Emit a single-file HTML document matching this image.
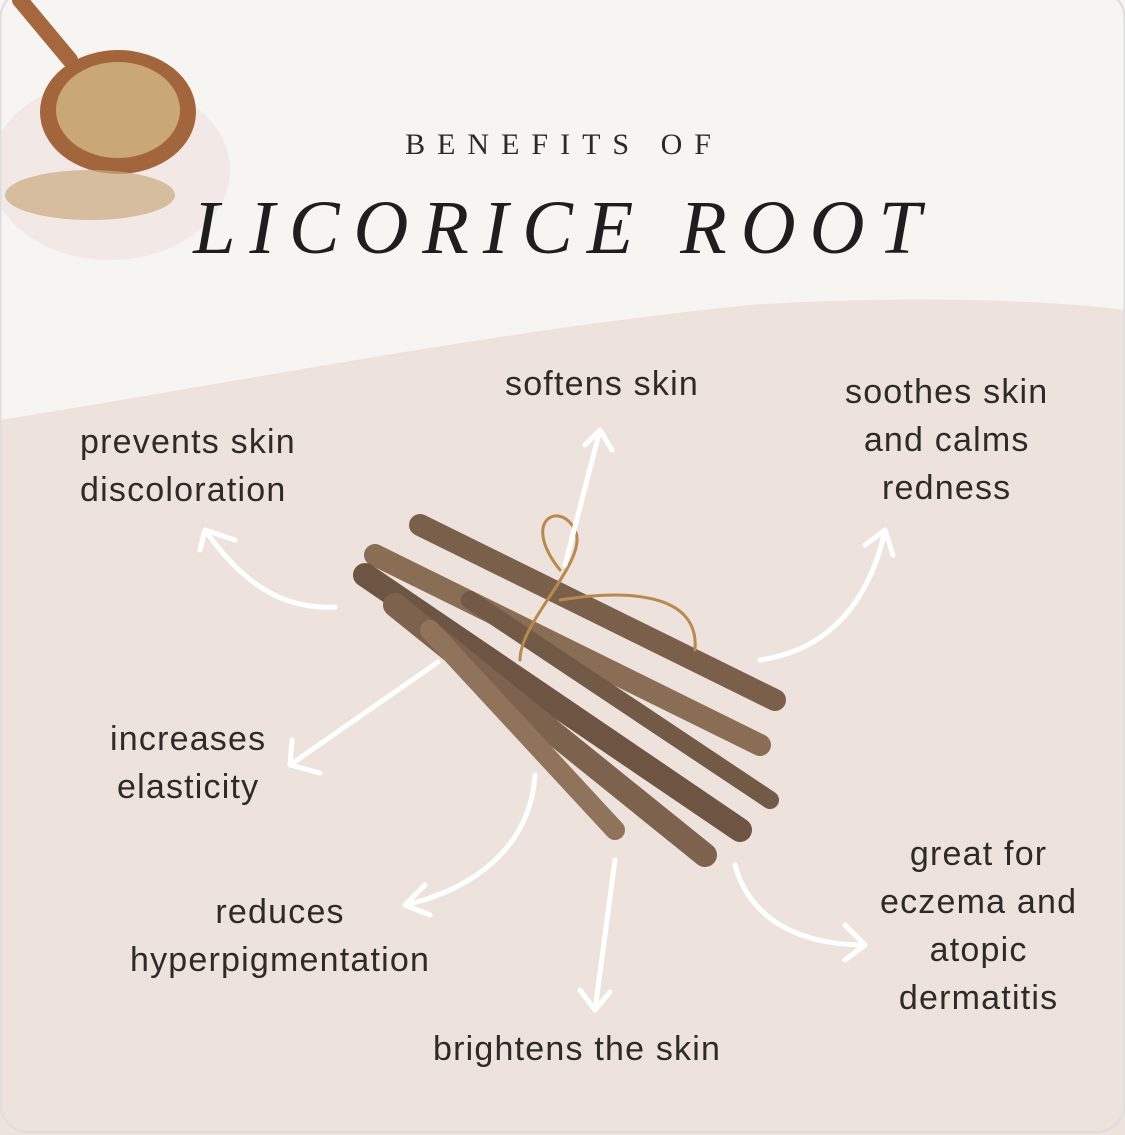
<!DOCTYPE html>
<html><head><meta charset="utf-8"><style>
html,body{margin:0;padding:0;}
body{width:1125px;height:1135px;position:relative;overflow:hidden;background:#f6f5f2;font-family:"Liberation Sans",sans-serif;}
.l{position:absolute;color:#2e2a28;font-size:34px;letter-spacing:1.2px;line-height:48px;text-align:center;white-space:nowrap;}
</style></head><body>
<svg width="1125" height="1135" style="position:absolute;left:0;top:0">
<path d="M0,420 C250,380 500,330 750,305 C900,295 1050,300 1125,310 L1125,1135 L0,1135 Z" fill="#ede3dc"/>
<ellipse cx="110" cy="170" rx="120" ry="90" fill="#f1e6e3" opacity="0.8"/>
<path d="M20,0 L70,60" stroke="#a5673e" stroke-width="16" stroke-linecap="round"/>
<ellipse cx="118" cy="112" rx="78" ry="62" fill="#a3653b"/>
<ellipse cx="118" cy="110" rx="62" ry="48" fill="#c9a777"/>
<ellipse cx="90" cy="195" rx="85" ry="25" fill="#c9a97f" opacity="0.7"/>
<g stroke-linecap="round">
<line x1="420" y1="525" x2="775" y2="700" stroke="#7a604b" stroke-width="22"/>
<line x1="375" y1="555" x2="760" y2="745" stroke="#8a6d55" stroke-width="22"/>
<line x1="365" y1="575" x2="740" y2="830" stroke="#6e5543" stroke-width="24"/>
<line x1="395" y1="605" x2="705" y2="855" stroke="#7d634e" stroke-width="24"/>
<line x1="430" y1="630" x2="615" y2="830" stroke="#8f735b" stroke-width="20"/>
<line x1="470" y1="600" x2="770" y2="800" stroke="#735a47" stroke-width="18"/>
<path d="M560,570 C520,520 560,500 575,530 C590,560 520,620 520,660 M560,600 C620,590 700,590 695,650" stroke="#b98a4f" stroke-width="3" fill="none"/>
</g>
<g stroke="#fff" stroke-width="5" fill="none" stroke-linecap="round" stroke-linejoin="round">
<path d="M335,607 C280,610 240,580 205,530"/><path d="M200,550 L205,530 L235,540"/>
<path d="M565,565 L600,430"/><path d="M585,445 L600,430 L612,450"/>
<path d="M760,660 C830,650 870,600 885,530"/><path d="M865,545 L885,530 L893,555"/>
<path d="M438,662 L290,765"/><path d="M292,740 L290,765 L320,773"/>
<path d="M535,775 C530,850 470,890 405,905"/><path d="M425,885 L405,905 L430,915"/>
<path d="M615,860 L595,1010"/><path d="M580,990 L595,1010 L610,992"/>
<path d="M735,865 C750,920 800,945 865,945"/><path d="M845,925 L865,945 L845,960"/>
</g>
<rect x="0.5" y="-10" width="1124" height="1142" rx="28" fill="none" stroke="#ddd" stroke-width="2"/>
</svg>
<div style="position:absolute;left:0;width:1128px;top:128px;text-align:center;font-family:'Liberation Serif',serif;font-size:30px;letter-spacing:12px;color:#2a2a2a">BENEFITS OF</div>
<div style="position:absolute;left:0;width:1128px;top:185px;text-align:center;font-family:'Liberation Serif',serif;font-style:italic;font-size:76px;letter-spacing:14px;color:#1e1e1e">LICORICE ROOT</div>
<div class="l" style="left:505px;top:360px">softens skin</div>
<div class="l" style="left:80px;top:418px;text-align:left">prevents skin<br>discoloration</div>
<div class="l" style="left:845px;top:368px">soothes skin<br>and calms<br>redness</div>
<div class="l" style="left:110px;top:715px">increases<br>elasticity</div>
<div class="l" style="left:130px;top:888px">reduces<br>hyperpigmentation</div>
<div class="l" style="left:880px;top:830px">great for<br>eczema and<br>atopic<br>dermatitis</div>
<div class="l" style="left:433px;top:1025px">brightens the skin</div>
</body></html>
